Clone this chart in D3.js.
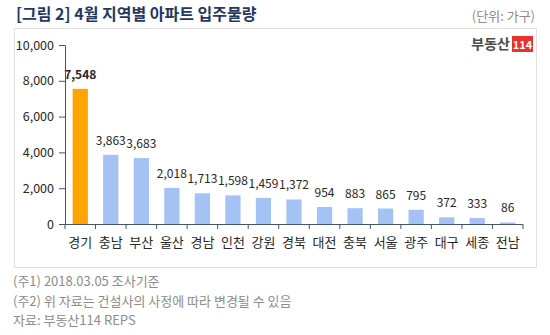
<!DOCTYPE html>
<html>
<head>
<meta charset="utf-8">
<script src="https://cdn.jsdelivr.net/npm/d3@7/dist/d3.min.js"></script>
<style>
  html, body { margin: 0; padding: 0; background: #fff; }
  svg { display: block; }
  text { font-family: "Noto Sans CJK KR", "Noto Sans", sans-serif; }
</style>
</head>
<body>
<svg id="chart" width="550" height="335"></svg>
<script>
const categories = ["경기","충남","부산","울산","경남","인천","강원","경북","대전","충북","서울","광주","대구","세종","전남"];
const values = [7548,3863,3683,2018,1713,1598,1459,1372,954,883,865,795,372,333,86];
const yTicks = [0,2000,4000,6000,8000,10000];
const title = "[그림 2] 4월 지역별 아파트 입주물량";
const unitLabel = "(단위: 가구)";
const notes = ["(주1) 2018.03.05 조사기준","(주2) 위 자료는 건설사의 사정에 따라 변경될 수 있음","자료: 부동산114 REPS"];

const svg = d3.select("#chart");
const fmt = d3.format(",");

// title
svg.append("text").attr("x", 16).attr("y", 20)
  .attr("font-size", 16).attr("font-weight", "bold").attr("fill", "#1f3864")
  .text(title);
svg.append("text").attr("x", 535).attr("y", 21).attr("text-anchor", "end")
  .attr("font-size", 13).attr("fill", "#8c8c8c").text(unitLabel);

// panel
svg.append("rect").attr("x", 14.5).attr("y", 28.5).attr("width", 522).attr("height", 239)
  .attr("fill", "#fff").attr("stroke", "#e0e0e0");

// logo
svg.append("text").attr("x", 510).attr("y", 49).attr("text-anchor", "end")
  .attr("font-size", 14).attr("font-weight", "bold").attr("fill", "#4a4a4a").text("부동산");
svg.append("rect").attr("x", 512).attr("y", 36).attr("width", 21).attr("height", 16).attr("fill", "#e8322b");
svg.append("text").attr("x", 522.5).attr("y", 48.5).attr("text-anchor", "middle")
  .attr("font-size", 11).attr("font-weight", "bold").attr("fill", "#fff")
  .attr("font-family", "Roboto, sans-serif").text("114");

const x = d3.scaleBand().domain(categories).range([65, 523]).paddingInner(0.5).paddingOuter(0.25);
const y = d3.scaleLinear().domain([0, 10000]).range([224, 45]);

// bars
svg.append("g").selectAll("rect").data(categories).join("rect")
  .attr("x", d => x(d))
  .attr("y", (d, i) => y(values[i]))
  .attr("width", x.bandwidth())
  .attr("height", (d, i) => y(0) - y(values[i]))
  .attr("fill", (d, i) => i === 0 ? "#ffa500" : "#a4c2f4");

// value labels
svg.append("g").selectAll("text").data(categories).join("text")
  .attr("x", d => x(d) + x.bandwidth() / 2)
  .attr("y", (d, i) => y(values[i]) - 10)
  .attr("text-anchor", "middle")
  .attr("font-size", 12)
  .attr("font-weight", (d, i) => i === 0 ? "bold" : "normal")
  .attr("fill", "#262626")
  .text((d, i) => fmt(values[i]));

// y axis
const yAxis = svg.append("g").attr("transform", "translate(65,0)")
  .call(d3.axisLeft(y).tickValues(yTicks).tickFormat(fmt).tickSize(6).tickPadding(5));
yAxis.select(".domain").attr("stroke", "#44546a");
yAxis.selectAll(".tick line").attr("stroke", "#44546a");
yAxis.selectAll(".tick text").attr("font-size", 12.5).attr("fill", "#262626")
  .attr("font-family", "\"Noto Sans CJK KR\", sans-serif");

// x axis
const step = x.step();
const boundaries = d3.range(categories.length + 1).map(i => 65 + i * (458 / categories.length));
const xg = svg.append("g");
xg.append("line").attr("x1", 65).attr("x2", 523).attr("y1", 224.5).attr("y2", 224.5).attr("stroke", "#44546a");
xg.selectAll("line.t").data(boundaries).join("line").attr("class", "t")
  .attr("x1", d => d).attr("x2", d => d).attr("y1", 224).attr("y2", 229).attr("stroke", "#44546a");
xg.selectAll("text").data(categories).join("text")
  .attr("x", d => x(d) + x.bandwidth() / 2).attr("y", 247)
  .attr("text-anchor", "middle").attr("font-size", 13).attr("fill", "#262626")
  .text(d => d);

// notes
svg.append("g").selectAll("text").data(notes).join("text")
  .attr("x", 13).attr("y", (d, i) => 286 + i * 19.5)
  .attr("font-size", 13).attr("fill", "#8c8c8c").text(d => d);
</script>
</body>
</html>
